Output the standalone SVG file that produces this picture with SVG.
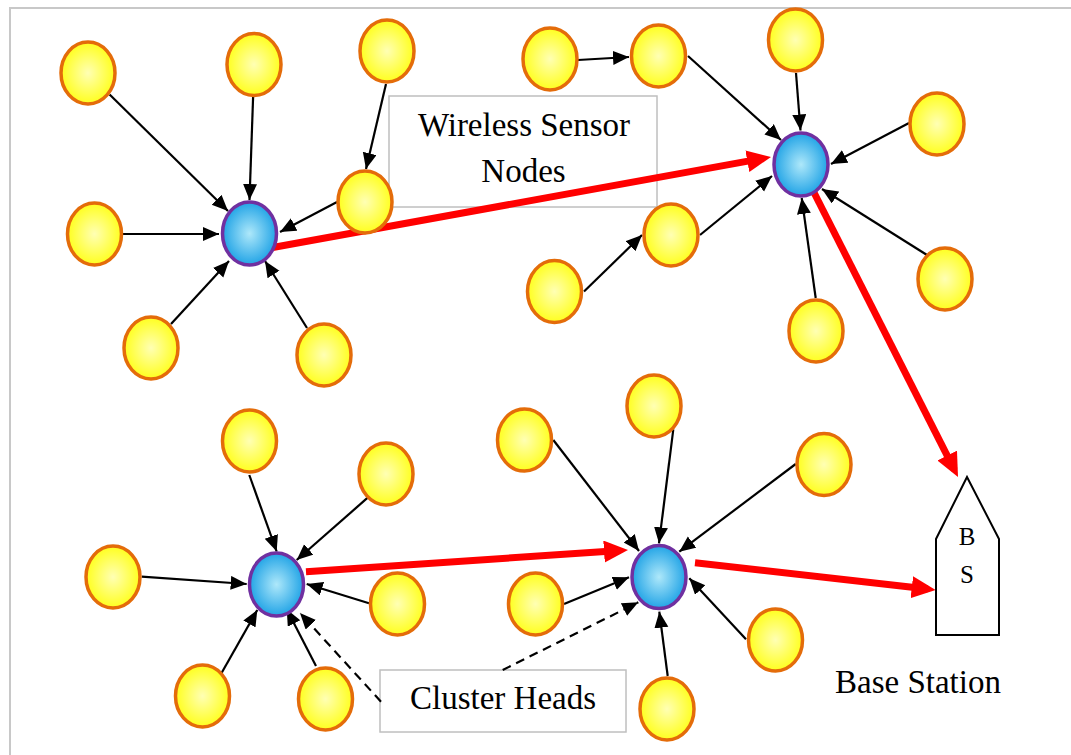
<svg xmlns="http://www.w3.org/2000/svg" width="1071" height="755" viewBox="0 0 1071 755">
<style>
.sn{fill:url(#gy);stroke:#E46C0A;stroke-width:3.5}
.ch{fill:url(#gb);stroke:#7030A0;stroke-width:3.5}
.bl{stroke:#000;stroke-width:2.2;fill:none;marker-end:url(#ab)}
.dl{stroke:#000;stroke-width:2.2;fill:none;stroke-dasharray:9 6;marker-end:url(#ab)}
.rd{stroke:#FF0000;stroke-width:7;fill:none;marker-end:url(#ar)}
.lb{fill:#fff;stroke:#BFBFBF;stroke-width:1.5}
</style>
<defs>
<radialGradient id="gy" cx="50%" cy="50%" r="50%">
<stop offset="0" stop-color="#FFFFB4"/>
<stop offset="1" stop-color="#FFFF1E"/>
</radialGradient>
<radialGradient id="gb" cx="50%" cy="50%" r="50%">
<stop offset="0" stop-color="#AEE8FA"/>
<stop offset="1" stop-color="#22A4E6"/>
</radialGradient>
<marker id="ab" markerUnits="userSpaceOnUse" markerWidth="17" markerHeight="15" refX="16" refY="7" orient="auto">
<path d="M0,0 L16,7 L0,14 z" fill="#000"/>
</marker>
<marker id="ar" markerUnits="userSpaceOnUse" markerWidth="25" markerHeight="23" refX="16" refY="11" orient="auto">
<path d="M0,0 L24,11 L0,22 z" fill="#FF0000"/>
</marker>
</defs>
<rect x="10" y="8" width="1100" height="800" fill="#fff" stroke="#C8C8C8" stroke-width="2"/>
<g id="label-wireless">
<rect class="lb" x="389" y="96" width="268" height="111"/>
<text x="524" y="136" font-family="Liberation Serif, Times New Roman, DejaVu Serif, serif" font-size="33" text-anchor="middle" fill="#000">Wireless Sensor</text>
<text x="523.5" y="182" font-family="Liberation Serif, Times New Roman, DejaVu Serif, serif" font-size="33" text-anchor="middle" fill="#000">Nodes</text>
</g>
<g id="label-cluster">
<rect class="lb" x="380" y="670" width="246" height="62"/>
<text x="503" y="709" font-family="Liberation Serif, Times New Roman, DejaVu Serif, serif" font-size="33" text-anchor="middle" fill="#000">Cluster Heads</text>
</g>
<g id="connectors">
<line class="bl" x1="109.6" y1="94.5" x2="228" y2="211"/>
<line class="bl" x1="253.1" y1="97" x2="249.5" y2="200"/>
<line class="bl" x1="386" y1="84" x2="366" y2="169"/>
<line class="bl" x1="337" y1="202" x2="280" y2="232"/>
<line class="bl" x1="123" y1="234" x2="219" y2="234"/>
<line class="bl" x1="171" y1="324" x2="229" y2="261"/>
<line class="bl" x1="307" y1="328" x2="265" y2="261"/>
<line class="bl" x1="578" y1="60" x2="629" y2="57"/>
<line class="bl" x1="688" y1="56" x2="781" y2="140"/>
<line class="bl" x1="796" y1="73" x2="800.5" y2="130.5"/>
<line class="bl" x1="909" y1="123" x2="831" y2="164"/>
<line class="bl" x1="927" y1="255" x2="822" y2="189"/>
<line class="bl" x1="815.7" y1="298" x2="801.7" y2="198"/>
<line class="bl" x1="700" y1="235" x2="772" y2="176"/>
<line class="bl" x1="584" y1="291.5" x2="642" y2="235"/>
<line class="bl" x1="249.3" y1="475" x2="276.7" y2="551.5"/>
<line class="bl" x1="367.7" y1="497.7" x2="296.7" y2="560"/>
<line class="bl" x1="141.7" y1="576.7" x2="246.7" y2="584"/>
<line class="bl" x1="369" y1="603.3" x2="306.7" y2="584"/>
<line class="bl" x1="221.7" y1="672.7" x2="257.3" y2="610"/>
<line class="bl" x1="316" y1="666" x2="286.7" y2="609.3"/>
<line class="bl" x1="553.3" y1="440" x2="639" y2="551"/>
<line class="bl" x1="673.3" y1="429.3" x2="659" y2="543.3"/>
<line class="bl" x1="795.7" y1="464" x2="679.3" y2="551.7"/>
<line class="bl" x1="564" y1="604" x2="629" y2="577.3"/>
<line class="bl" x1="746" y1="639.3" x2="689.3" y2="578.3"/>
<line class="bl" x1="667.7" y1="676" x2="659.3" y2="611.7"/>
<line class="dl" x1="381" y1="701.7" x2="300" y2="613"/>
<line class="dl" x1="502.7" y1="670" x2="638.3" y2="602.3"/>
<line class="rd" x1="270" y1="248" x2="763.1" y2="158.4"/>
<line class="rd" x1="811.7" y1="188" x2="954.4" y2="469.9"/>
<line class="rd" x1="306" y1="571.7" x2="620" y2="550.5"/>
<line class="rd" x1="695" y1="562.7" x2="927.7" y2="589.1"/>
</g>
<g id="n1"><ellipse class="sn" cx="88" cy="73" rx="27" ry="31"/></g>
<g id="n2"><ellipse class="sn" cx="254" cy="64.5" rx="27" ry="31"/></g>
<g id="n3"><ellipse class="sn" cx="387" cy="51" rx="27" ry="31"/></g>
<g id="n4"><ellipse class="sn" cx="365" cy="202" rx="27" ry="31"/></g>
<g id="n5"><ellipse class="sn" cx="94.5" cy="234" rx="27" ry="31"/></g>
<g id="n6"><ellipse class="sn" cx="151" cy="348" rx="27" ry="31"/></g>
<g id="n7"><ellipse class="sn" cx="324" cy="355" rx="27" ry="31"/></g>
<g id="n8"><ellipse class="sn" cx="550" cy="59" rx="27" ry="31"/></g>
<g id="n9"><ellipse class="sn" cx="658.5" cy="56" rx="27" ry="31"/></g>
<g id="n10"><ellipse class="sn" cx="795.5" cy="40" rx="27" ry="31"/></g>
<g id="n11"><ellipse class="sn" cx="937" cy="124" rx="27" ry="31"/></g>
<g id="n12"><ellipse class="sn" cx="945" cy="279" rx="27" ry="31"/></g>
<g id="n13"><ellipse class="sn" cx="816" cy="331" rx="27" ry="31"/></g>
<g id="n14"><ellipse class="sn" cx="671" cy="235" rx="27" ry="31"/></g>
<g id="n15"><ellipse class="sn" cx="554.5" cy="291.5" rx="27" ry="31"/></g>
<g id="n16"><ellipse class="sn" cx="249.5" cy="441" rx="27" ry="31"/></g>
<g id="n17"><ellipse class="sn" cx="386" cy="474" rx="27" ry="31"/></g>
<g id="n18"><ellipse class="sn" cx="113" cy="577" rx="27" ry="31"/></g>
<g id="n19"><ellipse class="sn" cx="397.5" cy="604" rx="27" ry="31"/></g>
<g id="n20"><ellipse class="sn" cx="202.5" cy="696" rx="27" ry="31"/></g>
<g id="n21"><ellipse class="sn" cx="325.5" cy="699" rx="27" ry="31"/></g>
<g id="n22"><ellipse class="sn" cx="524.5" cy="440" rx="27" ry="31"/></g>
<g id="n23"><ellipse class="sn" cx="654" cy="406" rx="27" ry="31"/></g>
<g id="n24"><ellipse class="sn" cx="824" cy="464.5" rx="27" ry="31"/></g>
<g id="n25"><ellipse class="sn" cx="535.5" cy="604" rx="27" ry="31"/></g>
<g id="n26"><ellipse class="sn" cx="775.5" cy="640" rx="27" ry="31"/></g>
<g id="n27"><ellipse class="sn" cx="667" cy="709" rx="27" ry="31"/></g>
<g id="ch1"><ellipse class="ch" cx="249.5" cy="233.5" rx="27" ry="31.5"/></g>
<g id="ch2"><ellipse class="ch" cx="801" cy="164.5" rx="27" ry="31.5"/></g>
<g id="ch3"><ellipse class="ch" cx="276.5" cy="584.5" rx="27" ry="31.5"/></g>
<g id="ch4"><ellipse class="ch" cx="659" cy="577" rx="27" ry="31.5"/></g>
<g id="base-station">
<polygon points="936,539 967,477 999,539 999,635 936,635" fill="#fff" stroke="#000" stroke-width="2"/>
<text x="967" y="545" font-family="Liberation Serif, Times New Roman, DejaVu Serif, serif" font-size="25" text-anchor="middle" fill="#000">B</text>
<text x="967" y="583" font-family="Liberation Serif, Times New Roman, DejaVu Serif, serif" font-size="25" text-anchor="middle" fill="#000">S</text>
<text x="918" y="693" font-family="Liberation Serif, Times New Roman, DejaVu Serif, serif" font-size="33" text-anchor="middle" fill="#000">Base Station</text>
</g>
</svg>
